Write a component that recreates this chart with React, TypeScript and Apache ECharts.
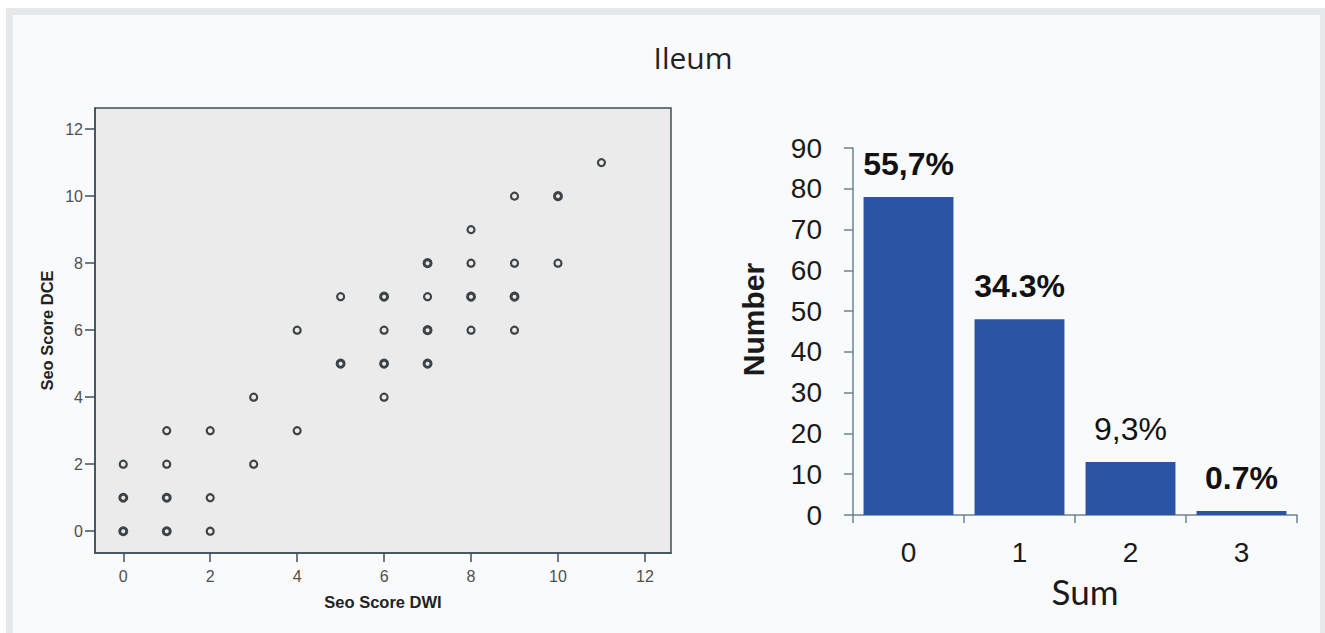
import React, { useEffect, useRef } from "react";
import * as echarts from "echarts";

// Scatter: Seo Score DWI (x) vs Seo Score DCE (y); overlap = several patients at same point
const dwi = [0, 0, 0, 1, 1, 1, 1, 2, 2, 2, 3, 3, 4, 4, 5, 5, 6, 6, 6, 6, 7, 7, 7, 7, 8, 8, 8, 8, 9, 9, 9, 9, 10, 10, 11];
const dce = [0, 1, 2, 0, 1, 2, 3, 0, 1, 3, 2, 4, 3, 6, 5, 7, 4, 5, 6, 7, 5, 6, 7, 8, 6, 7, 8, 9, 6, 7, 8, 10, 8, 10, 11];
const overlap = [1, 1, 0, 1, 1, 0, 0, 0, 0, 0, 0, 0, 0, 0, 1, 0, 0, 1, 0, 1, 1, 1, 0, 1, 0, 1, 0, 0, 0, 1, 0, 0, 0, 1, 0];
const scatterTicks = [0, 2, 4, 6, 8, 10, 12];

// Bar chart: number of patients per sum
const sumCategories = ["0", "1", "2", "3"];
const sumCounts = [78, 48, 13, 1];
const sumPercentLabels = ["55,7%", "34.3%", "9,3%", "0.7%"];
const sumLabelBold = [true, true, false, true];

export default function App() {
  const ref = useRef<HTMLDivElement>(null);

  useEffect(() => {
    document.body.style.margin = "0";
    if (!ref.current) return;
    const chart = echarts.init(ref.current, undefined, { renderer: "svg" });

    const scatterData = dwi.map((x, i) => ({
      value: [x, dce[i]],
      itemStyle: {
        color: "rgba(0,0,0,0)",
        borderColor: "#12191d",
        borderWidth: overlap[i] ? 3 : 2.2,
      },
    }));

    const barData = sumCounts.map((v, i) => ({
      value: v,
      label: {
        formatter: sumPercentLabels[i],
        fontWeight: sumLabelBold[i] ? "bold" : "normal",
      },
    }));

    const sansA = "'Liberation Sans', Arial, sans-serif";
    const scatterAxisColor = "#3d4f59";
    const barAxisColor = "#6a8392";

    chart.setOption({
      animation: false,
      backgroundColor: "#ffffff",
      title: {
        text: "Ileum",
        left: 688,
        textAlign: "center",
        top: 37,
        textStyle: {
          fontFamily: "'Open Sans', sans-serif",
          fontSize: 30,
          fontWeight: "normal",
          color: "#222222",
        },
      },
      graphic: [
        {
          type: "rect",
          z: -10,
          silent: true,
          shape: { x: 6, y: 8, width: 1325, height: 640 },
          style: { fill: "#e7e8ea" },
        },
        {
          type: "rect",
          z: -9,
          silent: true,
          shape: { x: 13, y: 15, width: 1307, height: 630 },
          style: { fill: "#f9fafc" },
        },
      ],
      grid: [
        {
          left: 95,
          top: 108,
          right: 654,
          bottom: 80,
          show: true,
          backgroundColor: "#ebebeb",
          borderColor: scatterAxisColor,
          borderWidth: 1.5,
        },
        {
          left: 853,
          top: 148,
          right: 28,
          bottom: 118,
        },
      ],
      xAxis: [
        {
          gridIndex: 0,
          type: "value",
          min: -0.65,
          max: 12.6,
          name: "Seo Score DWI",
          nameLocation: "middle",
          nameGap: 40,
          nameTextStyle: { fontFamily: sansA, fontSize: 16.5, fontWeight: "bold", color: "#222" },
          axisLine: { show: true, onZero: false, lineStyle: { color: scatterAxisColor, width: 1.5 } },
          axisTick: { show: true, length: 9, customValues: scatterTicks, lineStyle: { color: scatterAxisColor, width: 1.5 } },
          axisLabel: { customValues: scatterTicks, margin: 15, fontSize: 16, color: "#4f4f4f", fontFamily: sansA },
          splitLine: { show: false },
        },
        {
          gridIndex: 1,
          type: "category",
          data: sumCategories,
          name: "Sum",
          nameLocation: "middle",
          nameGap: 58,
          nameTextStyle: { fontFamily: "Lato, 'Open Sans', sans-serif", fontSize: 35, color: "#1a1a1a", padding: [0, 0, 0, 20] },
          axisLine: { show: true, lineStyle: { color: barAxisColor, width: 1.5 } },
          axisTick: { show: true, length: 8, lineStyle: { color: barAxisColor, width: 1.5 } },
          axisLabel: { margin: 23, fontSize: 28, color: "#1a1a1a", fontFamily: sansA },
        },
      ],
      yAxis: [
        {
          gridIndex: 0,
          type: "value",
          min: -0.65,
          max: 12.63,
          name: "Seo Score DCE",
          nameLocation: "middle",
          nameRotate: 90,
          nameGap: 40,
          nameTextStyle: { fontFamily: sansA, fontSize: 16.5, fontWeight: "bold", color: "#222" },
          axisLine: { show: true, onZero: false, lineStyle: { color: scatterAxisColor, width: 1.5 } },
          axisTick: { show: true, length: 10, customValues: scatterTicks, lineStyle: { color: scatterAxisColor, width: 1.5 } },
          axisLabel: { customValues: scatterTicks, margin: 12, fontSize: 16, color: "#4f4f4f", fontFamily: sansA },
          splitLine: { show: false },
        },
        {
          gridIndex: 1,
          type: "value",
          min: 0,
          max: 90,
          interval: 10,
          name: "Number",
          nameLocation: "middle",
          nameRotate: 90,
          nameGap: 85,
          nameTextStyle: { fontFamily: sansA, fontSize: 30, fontWeight: "bold", color: "#1a1a1a", padding: [0, 0, 0, 24] },
          axisLine: { show: true, lineStyle: { color: barAxisColor, width: 1.5 } },
          axisTick: { show: true, length: 9, lineStyle: { color: barAxisColor, width: 1.5 } },
          axisLabel: { margin: 31, fontSize: 28, color: "#1a1a1a", fontFamily: sansA },
          splitLine: { show: false },
        },
      ],
      series: [
        {
          type: "scatter",
          xAxisIndex: 0,
          yAxisIndex: 0,
          symbol: "circle",
          symbolSize: 7,
          data: scatterData,
        },
        {
          type: "bar",
          xAxisIndex: 1,
          yAxisIndex: 1,
          barCategoryGap: "19%",
          itemStyle: { color: "#2b54a5" },
          label: {
            show: true,
            position: "top",
            distance: 17,
            fontSize: 32,
            fontFamily: sansA,
            color: "#111",
          },
          data: barData,
        },
      ],
    });

    return () => chart.dispose();
  }, []);

  return <div ref={ref} style={{ width: 1325, height: 633 }} />;
}
